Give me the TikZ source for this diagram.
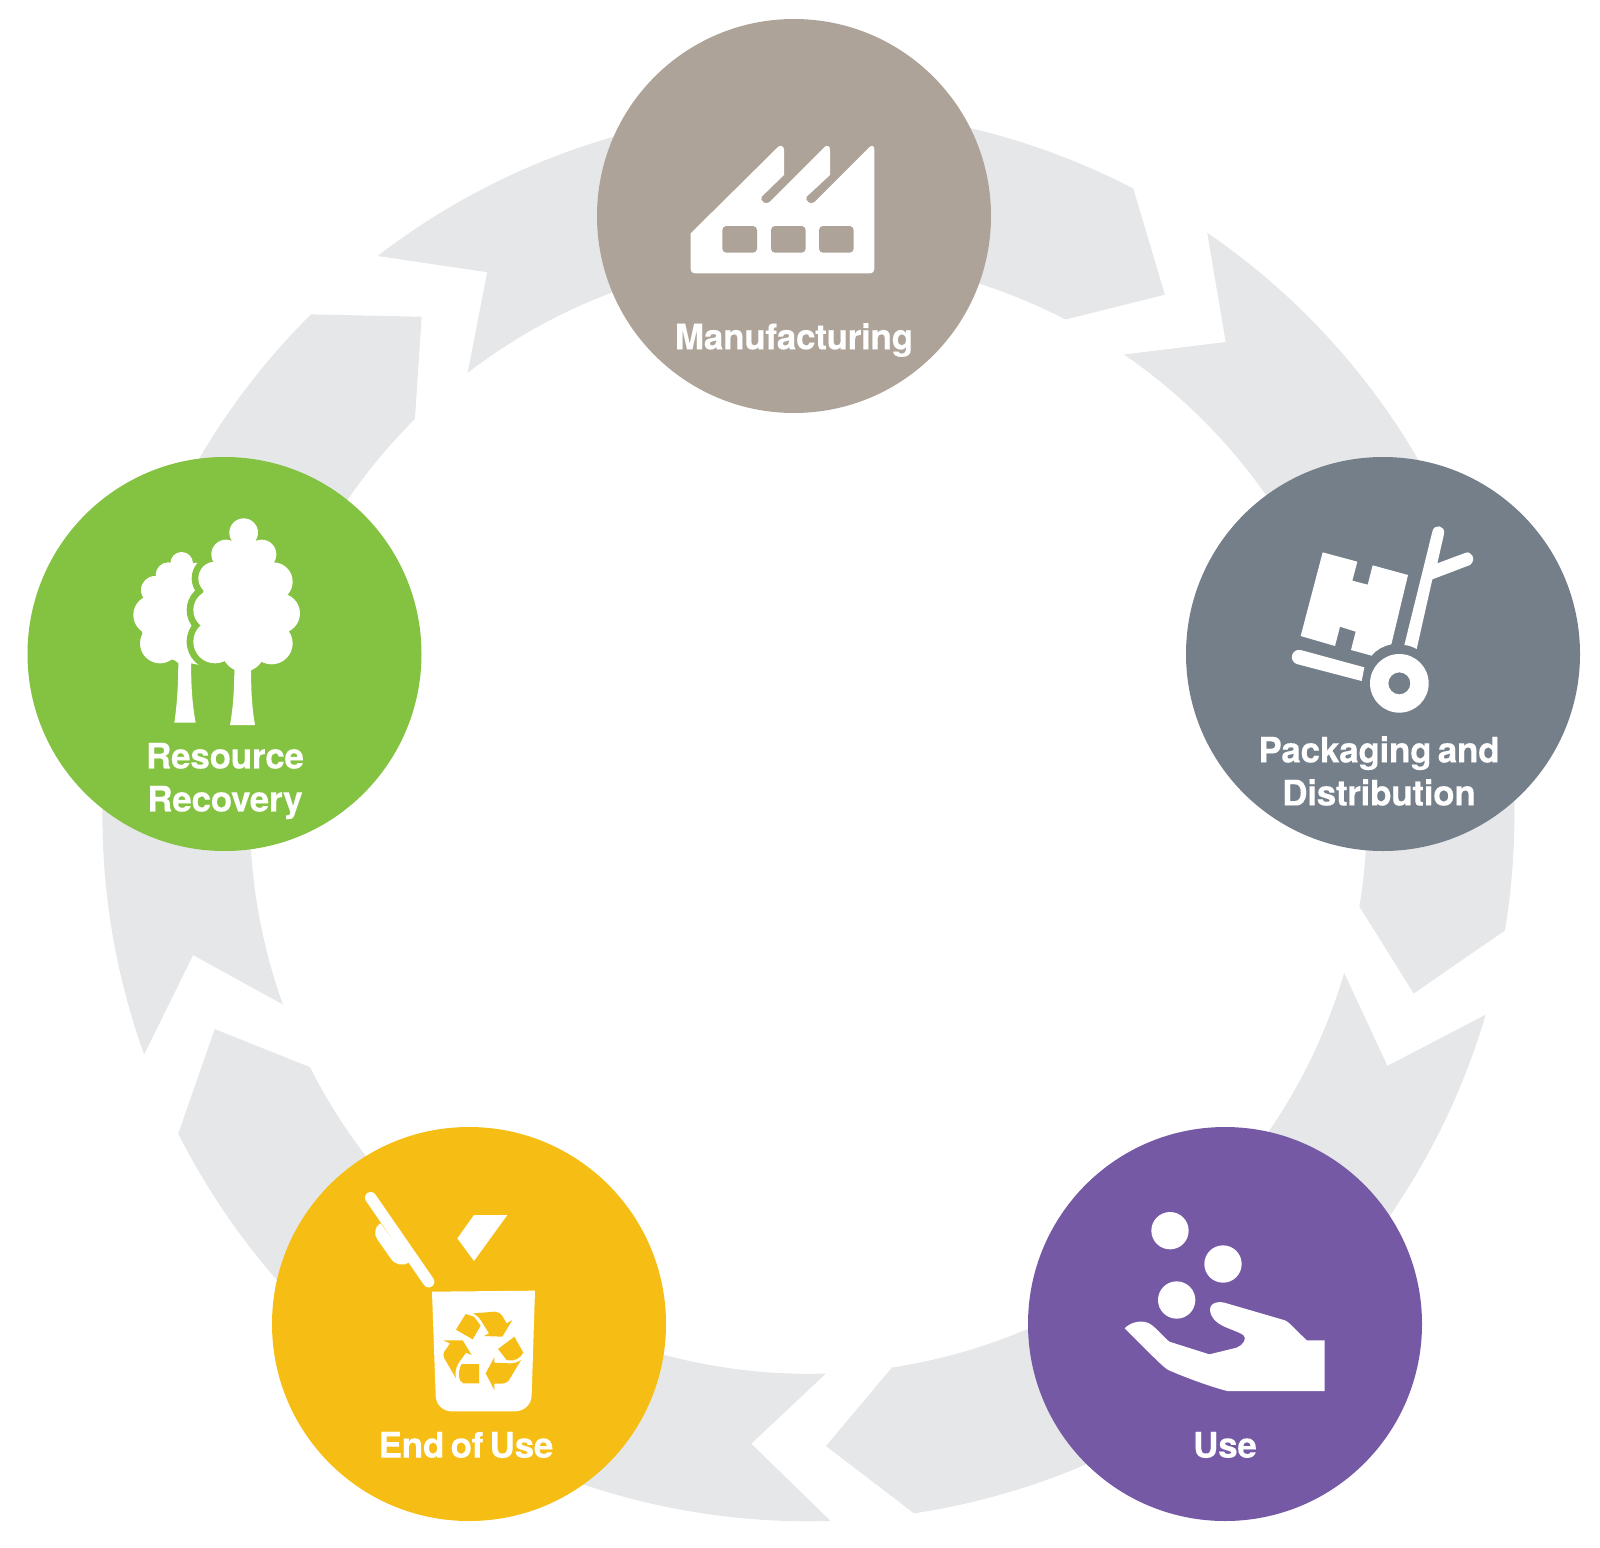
\documentclass[tikz,border=0pt]{standalone}
\usepackage{fontspec}
\setmainfont{TeX Gyre Heros}
\newfontfamily\labelfont[LetterSpace=-1, WordSpace=0.65, BoldFeatures={FakeBold=0.15}]{TeX Gyre Heros}
\usepackage{xcolor}
\usepackage{tikz}

\definecolor{ringgray}{HTML}{E6E7E8}
\definecolor{mfgtan}{HTML}{ADA398}
\definecolor{packslate}{HTML}{747F8A}
\definecolor{usepurple}{HTML}{7559A5}
\definecolor{endyellow}{HTML}{F6BE15}
\definecolor{resgreen}{HTML}{84C241}

\begin{document}
\begin{tikzpicture}[
    x=0.5pt, y=-0.5pt,
    ring piece/.style={fill=ringgray},
    stage/.style={circle, inner sep=0pt, minimum size=197pt},
    stage label/.style={text=white, align=center, inner sep=0pt,
        font=\fontsize{17.6}{21.5}\selectfont\labelfont\bfseries},
    icon cut/.style={fill=#1, rounded corners=2pt}
]
    \useasboundingbox (0,0) rectangle (1600,1547);

    % Ring of five chevrons, clockwise
    \coordinate (ring) at (808.4,815.3);
    \def\Ro{706}
    \def\Rm{631}
    \def\Ri{558.5}
    \foreach \a in {-127.6,-55.6,16.4,88.2,160.2} {
        \pgfmathsetmacro{\b}{\a+65}
        \pgfmathsetmacro{\c}{\a+72}
        \pgfmathsetmacro{\d}{\a+7}
        \fill[ring piece] ([shift={(\a:\Ro)}]ring)
            arc[start angle=\a, end angle=\b, radius=\Ro]
            -- ([shift={(\c:\Rm)}]ring)
            -- ([shift={(\b:\Ri)}]ring)
            arc[start angle=\b, end angle=\a, radius=\Ri]
            -- ([shift={(\d:\Rm)}]ring) -- cycle;
    }

    % Stages
    \node[stage, fill=mfgtan] (manufacturing) at (794,216) {};
    \node[stage, fill=packslate] (packaging) at (1383,654) {};
    \node[stage, fill=usepurple] (use) at (1225,1324) {};
    \node[stage, fill=endyellow] (endofuse) at (469,1324) {};
    \node[stage, fill=resgreen] (resource) at (224.5,654) {};

    % Labels
    \node[stage label] (manufacturing label) at (794,340) {Manufacturing};
    \node[stage label] (packaging label) at (1379,771) {Packaging and\\Distribution};
    \node[stage label] (use label) at (1225,1445) {Use};
    \node[stage label] (endofuse label) at (466,1445) {End of Use};
    \node[stage label] (resource label) at (225,781) {Resource\\Recovery};

    % --- ICONS ---
    % Factory
    \begin{scope}[shift={(660,130)}, scale=1/3]
        \fill[white] (92,310) -- (355,50) .. controls (362,45) and (372,48) .. (372,60)
            -- (372,135) -- (305,200)
            .. controls (298,212) and (318,228) .. (330,215)
            -- (495,50) .. controls (502,45) and (510,48) .. (510,60)
            -- (510,135) -- (440,200)
            .. controls (433,212) and (453,228) .. (465,215)
            -- (630,50) .. controls (637,45) and (643,48) .. (643,60)
            -- (643,415) .. controls (643,425) and (638,430) .. (628,430)
            -- (107,430) .. controls (97,430) and (92,425) .. (92,415) -- cycle;
        \foreach \x in {187,333,477}
            \fill[icon cut=mfgtan] (\x,288) rectangle ++(104,80);
    \end{scope}

    % Hand truck
    \begin{scope}[shift={(1270,510)}, scale=1/3]
        \fill[white] (158,127) -- (262,155) -- (247,212) -- (293,224) -- (308,166)
            -- (414,195) -- (364,403)
            .. controls (340,408) and (320,418) .. (305,437)
            -- (243,420) -- (257,365) -- (210,350) -- (195,408) -- (92,378) -- cycle;
        \fill[white, even odd rule] (388,520) circle (88) (388,520) circle (33);
        \fill[white] (487,65) -- (403,405) .. controls (415,406) and (428,410) .. (440,417)
            -- (487,208) -- (600,165)
            .. controls (620,150) and (605,120) .. (585,129)
            -- (502,160) -- (522,72)
            .. controls (527,45) and (492,40) .. (487,65) -- cycle;
        \fill[white] (92,420) -- (283,472) -- (275,513) -- (80,462)
            .. controls (55,452) and (65,415) .. (92,420) -- cycle;
    \end{scope}

    % Hand and coins
    \begin{scope}[shift={(1110,1195)}, scale=1/3]
        \foreach \x/\y in {180/107,339/207,200/315}
            \fill[white] (\x,\y) circle (56);
        \fill[white] (44,400) .. controls (60,382) and (100,370) .. (125,390)
            .. controls (145,405) and (160,425) .. (178,440)
            -- (298,478) -- (380,458)
            .. controls (400,450) and (412,430) .. (400,420)
            .. controls (370,400) and (305,395) .. (300,345)
            .. controls (300,320) and (330,318) .. (350,325)
            -- (525,376) .. controls (535,380) and (545,392) .. (590,436)
            -- (644,436) -- (644,588) -- (352,588)
            .. controls (300,575) and (220,545) .. (175,525)
            .. controls (160,518) and (100,455) .. (44,400) -- cycle;
    \end{scope}

    % Bin with recycling mark
    \begin{scope}[shift={(350,1180)}, scale=1/3]
        \draw[white, line width=5.7pt, line cap=round] (62,53) -- (236,305);
        \fill[white] (92,130) .. controls (72,140) and (72,165) .. (82,178)
            -- (122,235) .. controls (135,255) and (160,260) .. (178,246) -- cycle;
        \fill[white] (372,105) -- (472,105) -- (372,243) -- (322,175) -- cycle;
        \fill[white] (246,335) -- (555,332) -- (545,645)
            .. controls (545,675) and (520,694) .. (495,694) -- (305,694)
            .. controls (280,694) and (257,675) .. (257,645) -- cycle;
        \fill[endyellow] (347,402) -- (372,410) -- (392,437) -- (368,478)
            -- (318,449) -- cycle;
        \fill[endyellow] (370,400) -- (435,395) .. controls (445,396) and (452,400) .. (457,408)
            -- (470,430) -- (487,420) -- (457,470) -- (402,468) -- (417,460)
            -- (392,420) .. controls (385,410) and (378,405) .. (370,400) -- cycle;
        \fill[endyellow] (493,470) -- (520,518) .. controls (510,535) and (495,545) .. (470,540)
            -- (444,507) -- cycle;
        \fill[endyellow] (513,540) -- (480,595) .. controls (475,605) and (468,610) .. (455,611)
            -- (433,611) -- (433,630) -- (407,580) -- (433,532) -- (433,548)
            -- (480,550) .. controls (492,550) and (503,547) .. (513,540) -- cycle;
        \fill[endyellow] (335,552) -- (387,552) -- (387,610) -- (340,610)
            .. controls (325,605) and (322,575) .. (335,552) -- cycle;
        \fill[endyellow] (280,481) -- (338,481) -- (365,525) -- (348,518) -- (325,550)
            .. controls (315,570) and (315,580) .. (318,595)
            -- (283,535) .. controls (279,528) and (279,520) .. (283,515)
            -- (300,490) -- cycle;
    \end{scope}

    % Trees
    \begin{scope}[shift={(120,510)}, scale=1/3]
        % small tree behind
        \foreach \x/\y/\r in {185/160/34, 145/195/38, 105/240/42, 100/315/60, 120/400/60, 195/425/40}
            \fill[white] (\x,\y) circle (\r);
        \fill[white] (150,170) -- (232,158) -- (240,465) -- (160,450) -- (70,400) -- (60,300) -- cycle;
        \fill[white] (175,440) .. controls (175,540) and (170,590) .. (163,638)
            -- (227,638) .. controls (218,590) and (213,540) .. (213,440) -- cycle;
        % gap around the big tree
        \foreach \x/\y/\r in {285/205/70, 280/300/80, 285/395/85, 370/300/120}
            \fill[resgreen] (\x,\y) circle (\r);
        % big tree
        \foreach \x/\y/\r in {371/68/43, 318/133/44, 425/133/44, 285/205/50, 460/215/58,
                280/300/60, 480/310/60, 285/395/65, 455/400/63, 370/420/65, 370/280/125, 371/140/60}
            \fill[white] (\x,\y) circle (\r);
        \fill[white] (343,470) .. controls (343,550) and (338,600) .. (330,645)
            -- (405,645) .. controls (397,600) and (393,550) .. (393,470) -- cycle;
    \end{scope}

\end{tikzpicture}
\end{document}
